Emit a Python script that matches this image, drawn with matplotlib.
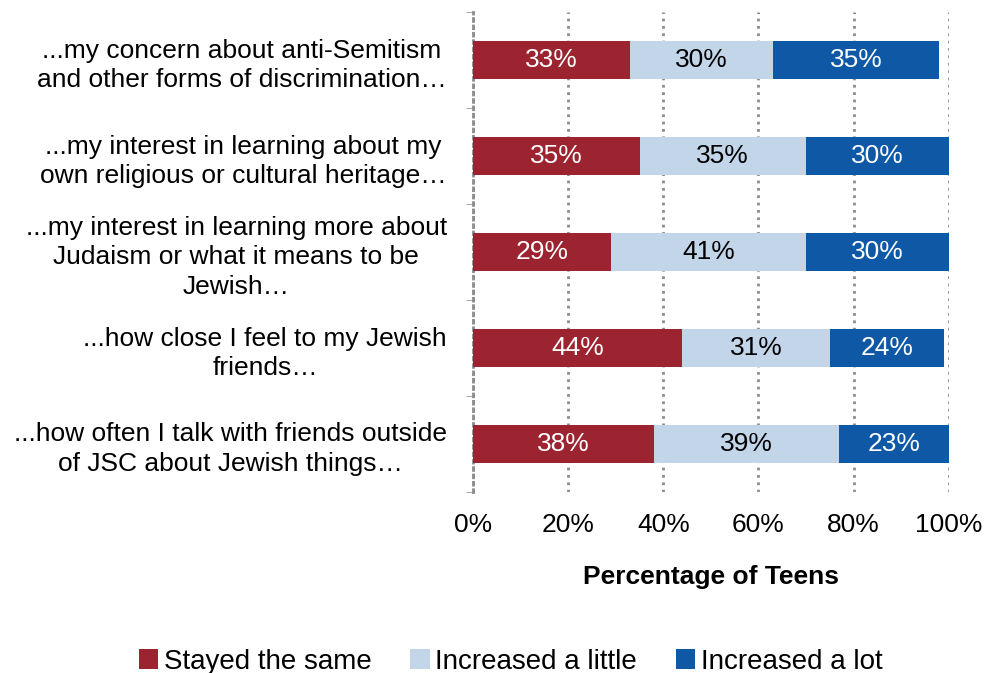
import matplotlib.pyplot as plt
import numpy as np

plt.rcParams['font.family'] = ['Liberation Sans', 'DejaVu Sans']

labels = [
    "...my concern about anti-Semitism\nand other forms of discrimination…",
    "...my interest in learning about my\nown religious or cultural heritage…",
    "...my interest in learning more about\nJudaism or what it means to be\nJewish…",
    "...how close I feel to my Jewish\nfriends…",
    "...how often I talk with friends outside\nof JSC about Jewish things…",
]
same = [33, 35, 29, 44, 38]
little = [30, 35, 41, 31, 39]
lot = [35, 30, 30, 24, 23]

series = ["Stayed the same", "Increased a little", "Increased a lot"]
colors = ["#9b2430", "#c3d5e9", "#0e58a5"]
text_colors = ["white", "black", "white"]

fs = 19

fig = plt.figure(figsize=(9.84, 6.73), dpi=100)
ax = fig.add_axes([0.481, 0.269, 0.483, 0.713])

y = np.arange(len(labels))
left = np.zeros(len(labels))
for vals, name, c, tc in zip([same, little, lot], series, colors, text_colors):
    vals = np.array(vals)
    ax.barh(y, vals, left=left, height=0.4, color=c, label=name, zorder=3)
    for yi, l, v in zip(y, left, vals):
        ax.text(l + v / 2, yi, f"{v}%", ha='center', va='center',
                color=tc, fontsize=fs, zorder=4)
    left += vals

ax.set_xlim(0, 100)
ax.set_ylim(len(labels) - 0.5, -0.5)
ax.set_xticks(range(0, 101, 20))
ax.set_xticklabels([f"{v}%" for v in range(0, 101, 20)], fontsize=fs)
ax.set_yticks(y)
ax.set_yticklabels(labels, fontsize=fs, multialignment='center', linespacing=1.28)
ax.set_yticks(np.arange(-0.5, len(labels)), minor=True)
ax.tick_params(axis='y', which='major', length=0, pad=19)
ax.tick_params(axis='y', which='minor', length=5, color='#999999', direction='out')
ax.tick_params(axis='x', length=0, pad=15)

ax.grid(axis='x', color='#8c8c8c', linestyle=':', linewidth=2, zorder=0)
for s in ['top', 'right', 'bottom']:
    ax.spines[s].set_visible(False)
ax.spines['left'].set_color('#8c8c8c')
ax.spines['left'].set_linestyle(':')
ax.spines['left'].set_linewidth(2)

ax.set_xlabel("Percentage of Teens", fontsize=fs, fontweight='bold', labelpad=20)

fig.legend(loc='lower center', bbox_to_anchor=(0.519, -0.04), ncol=3, frameon=False,
           fontsize=20, handlelength=0.7, handleheight=0.7, handletextpad=0.2,
           columnspacing=1.4)

fig.savefig("out.png", dpi=100)
